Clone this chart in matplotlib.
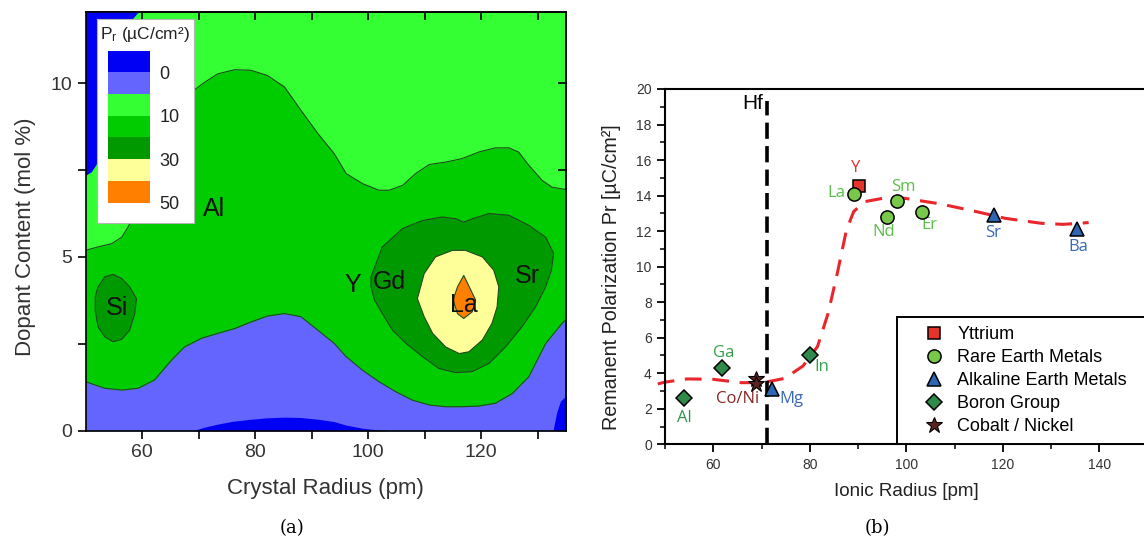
import numpy as np
import matplotlib.pyplot as plt

plt.rcParams['font.family'] = ['Liberation Sans', 'DejaVu Sans']

# ---------------- panel (a): Pr map, band outlines ----------------
band_colors = ['#0000f5', '#6464ff', '#33ff33', '#00cc00', '#009a00', '#ffff99', '#ff8000']
band_labels = ['0', '10', '30', '50']          # sit on band edges 1, 3, 5, 7

# upper edge of the 10-30 (green) band
green_top_x = [50, 52.2, 54.6, 56.4, 57.5, 59, 61, 63, 65, 67, 69.1, 71.1, 73.4, 76.4, 79.3,
               82.2, 85.2, 88.1, 91.1, 94, 96.1, 99, 101.9, 103.7, 106.1, 108.4, 110.8, 113.7,
               116.6, 119.6, 122.5, 124.9, 126.6, 128.4, 130.8, 132.5, 135]
green_top_y = [5.19, 5.29, 5.38, 5.57, 5.86, 6.3, 7.0, 7.8, 8.6, 9.3, 9.79, 10.03, 10.27, 10.39,
               10.37, 10.22, 9.89, 9.22, 8.55, 7.97, 7.4, 7.11, 6.92, 6.92, 7.06, 7.4, 7.66, 7.73,
               7.83, 8.02, 8.14, 8.14, 8.02, 7.64, 7.2, 7.01, 6.94]

# upper edge of the light blue band
blue_top_x = [50, 53.4, 56.4, 59.3, 62.2, 65.2, 67.5, 70.5, 73.4, 76.4, 79.3, 82.2, 85.2, 88.1,
              91.1, 94, 96.1, 99, 101.9, 104.9, 107.8, 110.8, 113.7, 116.6, 119.6, 122.5, 125.5,
              128.4, 131.4, 134.3, 135]
blue_top_y = [1.41, 1.22, 1.17, 1.22, 1.46, 2.03, 2.41, 2.66, 2.8, 2.94, 3.13, 3.3, 3.37, 3.28,
              2.89, 2.51, 2.13, 1.74, 1.41, 1.12, 0.88, 0.74, 0.69, 0.69, 0.71, 0.79, 1.07, 1.55,
              2.51, 3.09, 3.2]

# dark blue patches
deep_bottom_x = [69, 71, 73.4, 76, 79.3, 82, 85.2, 88, 91.1, 94, 96.1, 99, 101.9, 103.5]
deep_bottom_y = [0, 0.1, 0.19, 0.27, 0.33, 0.37, 0.39, 0.38, 0.33, 0.26, 0.16, 0.07, 0.02, 0]
deep_corner_x = [132.7, 133.3, 134, 135]
deep_corner_y = [0, 0.5, 0.85, 1.0]
deep_top_x = [50, 51, 52, 53, 54, 55, 56, 57, 58, 59.3]
deep_top_y = [7.35, 7.45, 7.7, 8.6, 9.4, 10.1, 10.8, 11.3, 11.8, 12.05]

# closed islands
si_x = [51.7, 52.2, 53.4, 54.9, 56.4, 57.8, 59.0, 58.7, 57.8, 56.4, 54.9, 53.4, 52.2, 51.7]
si_y = [3.85, 4.14, 4.43, 4.5, 4.38, 4.14, 3.8, 3.37, 2.89, 2.63, 2.56, 2.7, 2.99, 3.47]
ring_x = [100.5, 102.5, 106.1, 109.6, 113.1, 115.5, 116.9, 118.4, 121.4, 124.9, 128.4, 131.4,
          132.8, 132.4, 131.4, 129.6, 127.2, 124.3, 121.4, 118.4, 115.5, 112.5, 109.6, 106.7,
          104.3, 102.5, 101.1, 100.5]
ring_y = [4.43, 5.29, 5.82, 6.05, 6.15, 6.1, 6.0, 6.1, 6.25, 6.2, 5.91, 5.57, 5.1, 4.62, 4.14,
          3.56, 2.99, 2.41, 1.94, 1.7, 1.67, 1.79, 2.13, 2.51, 2.89, 3.37, 3.76, 4.14]
yellow_x = [108.7, 109.9, 111.9, 114.9, 117.2, 120.2, 122.2, 123.1, 122.8, 121.9, 120.2, 117.8,
            116.1, 113.7, 111.4, 109.9]
yellow_y = [3.8, 4.52, 5.0, 5.19, 5.19, 5.0, 4.62, 4.14, 3.56, 3.09, 2.61, 2.27, 2.22, 2.41,
            2.8, 3.28]
orange_x = [116.9, 119.0, 118.4, 116.9, 115.8, 115.0, 115.8]
orange_y = [4.47, 3.76, 3.42, 3.23, 3.37, 3.76, 4.14]

a_names = ['Al', 'Si', 'Y', 'Gd', 'La', 'Sr']
a_name_x = [72.8, 55.6, 97.2, 103.7, 116.9, 128.1]
a_name_y = [6.39, 3.52, 4.19, 4.28, 3.61, 4.45]

# ---------------- panel (b): Pr vs ionic radius ----------------
yt_x, yt_pr = [90.3], [14.54]
ree_x, ree_pr = [89.1, 96.1, 98.1, 103.2], [14.09, 12.8, 13.68, 13.06]
ae_x, ae_pr = [72.1, 118.2, 135.4], [3.1, 12.9, 12.1]
bor_x, bor_pr = [53.9, 61.9, 80.1], [2.59, 4.28, 5.0]
coni_x, coni_pr = [68.8, 68.8], [3.7, 3.4]

fit_x = [48.5, 50, 54.6, 59.9, 65.8, 70.3, 74.8, 78.6, 81.6, 83.8, 85.7, 87.6, 89.1, 91.4, 95.8,
         99.6, 107.1, 114.5, 120.5, 128, 132.5, 137.8]
fit_pr = [3.4, 3.5, 3.68, 3.66, 3.47, 3.47, 3.71, 4.41, 5.5, 7.37, 9.62, 12.06, 13.1, 13.66,
          13.88, 13.85, 13.53, 13.1, 12.72, 12.44, 12.38, 12.48]
hf_radius = 71.1

b_names = ['Y', 'La', 'Sm', 'Nd', 'Er', 'Sr', 'Ba', 'Ga', 'In', 'Al', 'Co/Ni', 'Mg']
b_name_x = [89.5, 85.5, 99.3, 95.4, 104.7, 118.0, 135.6, 62.1, 82.5, 54.1, 65.1, 76.3]
b_name_y = [15.53, 14.13, 14.47, 11.97, 12.35, 11.91, 11.13, 5.12, 4.37, 1.46, 2.53, 2.53]
b_name_c = ['#e8302a', '#5cbf4a', '#5cbf4a', '#5cbf4a', '#5cbf4a', '#3a68b5', '#3a68b5',
            '#37a04e', '#37a04e', '#2b9648', '#8a2626', '#3a68b5']

fig = plt.figure(figsize=(11.44, 5.49), dpi=100)

# ---- (a) ----
ax = fig.add_axes([0.0748, 0.2155, 0.420, 0.7627])
ax.set_facecolor(band_colors[2])
line_c, line_w = '#1f4a1f', 0.8
ax.fill_between(green_top_x, 0, green_top_y, color=band_colors[3], lw=0)
ax.fill_between(blue_top_x, 0, blue_top_y, color=band_colors[1], lw=0)
ax.fill_between(deep_bottom_x, 0, deep_bottom_y, color=band_colors[0], lw=0)
ax.fill_between(deep_corner_x, 0, deep_corner_y, color=band_colors[0], lw=0)
ax.fill_between(deep_top_x, deep_top_y, 12.2, color=band_colors[0], lw=0)
ax.plot(green_top_x, green_top_y, color=line_c, lw=line_w)
ax.plot(blue_top_x, blue_top_y, color=line_c, lw=line_w)
ax.fill(si_x, si_y, facecolor=band_colors[4], edgecolor=line_c, lw=line_w)
ax.fill(ring_x, ring_y, facecolor=band_colors[4], edgecolor=line_c, lw=line_w)
ax.fill(yellow_x, yellow_y, facecolor=band_colors[5], edgecolor=line_c, lw=line_w)
ax.fill(orange_x, orange_y, facecolor=band_colors[6], edgecolor=line_c, lw=line_w)
for name, x, y in zip(a_names, a_name_x, a_name_y):
    ax.text(x, y, name, fontsize=18, ha='center', va='center', color='#111111')

ax.set_xlim(50, 135)
ax.set_ylim(0, 12.05)
ax.set_xticks([60, 80, 100, 120])
ax.set_xticks(np.arange(70, 135, 20), minor=True)
ax.set_yticks([0, 5, 10])
ax.set_yticks([2.5, 7.5], minor=True)
ax.tick_params(which='both', direction='out', length=6, width=1.2, labelsize=14,
               labelcolor='#333333')
top = ax.secondary_xaxis('top')
top.set_xticks(np.arange(60, 135, 10))
top.tick_params(direction='in', length=6, width=1.2, labeltop=False)
right = ax.secondary_yaxis('right')
right.set_yticks([2.5, 5, 7.5, 10])
right.tick_params(direction='in', length=6, width=1.2, labelright=False)
for s in list(ax.spines.values()) + [top.spines['top'], right.spines['right']]:
    s.set_linewidth(1.2)
ax.set_xlabel('Crystal Radius (pm)', fontsize=16, color='#333333', labelpad=12)
ax.set_ylabel('Dopant Content (mol %)', fontsize=16, color='#333333')
ax.yaxis.set_label_coords(-0.104, 0.463)

# colour key of panel (a)
key = fig.add_axes([0.0845, 0.5944, 0.0851, 0.3705])
key.set_xlim(0, 97.3)
key.set_ylim(203.4, 0)
key.set_xticks([])
key.set_yticks([])
for s in key.spines.values():
    s.set_color('#b5b5b5')
key.bar([32] * len(band_colors), [21.7] * len(band_colors), width=42.3,
        bottom=31.4 + 21.7 * np.arange(len(band_colors)), color=band_colors)
for i, lab in enumerate(band_labels):
    key.text(63, 31.4 + 21.7 * (2 * i + 1) + 2, lab, fontsize=13, va='center', color='#222222')
key.text(48, 15.5, r'$\mathregular{P_r}$ (µC/cm²)', fontsize=12.5, ha='center', va='center',
         color='#222222')

# ---- (b) ----
bx = fig.add_axes([0.5813, 0.1907, 0.4218, 0.6472])
bx.plot(fit_x, fit_pr, color='#e8262b', lw=2.2, dashes=(5.5, 3.5), clip_on=False, zorder=2)
bx.plot([hf_radius, hf_radius], [0, 19.3], color='black', lw=2.6, dashes=(4.5, 2), zorder=2)
bx.text(hf_radius - 0.7, 19.2, 'Hf', fontsize=15, ha='right', va='center')

mk = dict(markeredgecolor='black', linestyle='none', zorder=4)
bx.plot(yt_x, yt_pr, marker='s', markersize=8, markerfacecolor='#e8332a',
        markeredgewidth=1.1, label='Yttrium', **mk)
bx.plot(ree_x, ree_pr, marker='o', markersize=9.5, markerfacecolor='#78c84a',
        markeredgewidth=1.1, label='Rare Earth Metals', **mk)
bx.plot(ae_x, ae_pr, marker='^', markersize=10, markerfacecolor='#2f66b3',
        markeredgewidth=1.1, label='Alkaline Earth Metals', **mk)
bx.plot(bor_x, bor_pr, marker='D', markersize=8.5, markerfacecolor='#2e8b4a',
        markeredgewidth=1.1, label='Boron Group', **mk)
bx.plot(coni_x, coni_pr, marker='*', markersize=12, markerfacecolor='#5b2222',
        markeredgewidth=0.8, label='Cobalt / Nickel', **mk)

for name, x, y, c in zip(b_names, b_name_x, b_name_y, b_name_c):
    bx.text(x, y, name, fontsize=12, ha='center', va='center', color=c,
            family=['Open Sans', 'DejaVu Sans'])

leg = bx.legend(loc='lower left', bbox_to_anchor=(0.481, 0.0, 0.6, 0.36), mode='expand',
                borderaxespad=0, fontsize=13, frameon=True, fancybox=False,
                edgecolor='black', framealpha=1, handlelength=3.1, handletextpad=-0.26,
                borderpad=0.5, labelspacing=0.33)
leg.get_frame().set_linewidth(1.4)

bx.set_xlim(50, 150)
bx.set_ylim(0, 20)
bx.set_xticks(np.arange(60, 141, 20))
bx.set_xticks(np.arange(50, 151, 10), minor=True)
bx.set_yticks(np.arange(0, 21, 2))
bx.set_yticks(np.arange(1, 20, 2), minor=True)
bx.tick_params(which='major', direction='out', length=6, width=1.3, labelsize=10,
               labelcolor='#333333', top=False, right=False)
bx.tick_params(which='minor', direction='out', length=3.5, width=1.1, top=False, right=False)
for s in bx.spines.values():
    s.set_linewidth(1.5)
bx.set_xlabel('Ionic Radius [pm]', fontsize=13.5, color='#222222', labelpad=8)
bx.set_ylabel('Remanent Polarization Pr [µC/cm²]', fontsize=14.2, color='#222222')
bx.yaxis.set_label_coords(-0.092, 0.47)

fig.text(0.2555, 0.022, '(a)', fontsize=13, ha='center', va='bottom', family='DejaVu Serif')
fig.text(0.7666, 0.022, '(b)', fontsize=13, ha='center', va='bottom', family='DejaVu Serif')

fig.savefig('out.png', dpi=100)
